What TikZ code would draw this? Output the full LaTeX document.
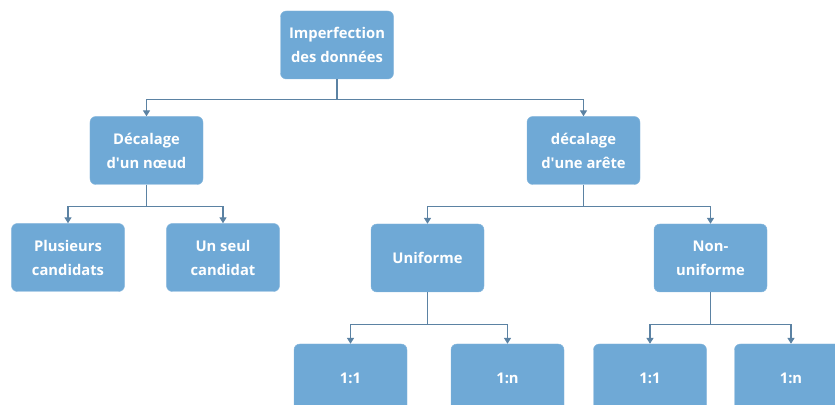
\documentclass[tikz,border=0pt]{standalone}
\usepackage{fontspec}
\setmainfont{Open Sans}
\usepackage{tikz}
\usetikzlibrary{arrows.meta}
\usetikzlibrary{positioning}

\definecolor{boxblue}{HTML}{6FA9D6}
\definecolor{linkblue}{HTML}{5B82A3}

\tikzset{
	box/.style={rectangle, rounded corners=5, fill=boxblue, draw=boxblue!85!white,
		text=white, font=\bfseries\fontsize{12.6}{20.5}\selectfont, align=center,
		minimum width=3.39cm, minimum height=2.04cm, inner sep=0pt},
	link/.style={draw=linkblue, line width=0.9pt, -{Triangle[length=5pt, width=6pt]}}
}

\begin{document}
\begin{tikzpicture}[x=0.03cm, y=-0.03cm]
		\useasboundingbox (0,0) rectangle (835,405);
		\clip (0,0) rectangle (835,405);
		
		\node[box] (root) at (337, 45) {Imperfection\\des données};
		
		\node[box] (noeud) at (146.5, 150.5) {Décalage\\d\textquotesingle un nœud};
		\node[box] (arete) at (583.5, 150.5) {décalage\\d\textquotesingle une arête};
		
		\node[box] (plus) at (68, 257.5) {Plusieurs\\candidats};
		\node[box] (seul) at (223, 257.5) {Un seul\\candidat};
		\node[box] (unif) at (427.5, 258) {Uniforme};
		\node[box] (nonunif) at (710.5, 258) {Non-\\uniforme};
		
		\node[box] (unifA) at (350.5, 378) {1:1};
		\node[box] (unifB) at (507.5, 378) {1:n};
		\node[box] (nonunifA) at (650, 378) {1:1};
		\node[box] (nonunifB) at (791, 378) {1:n};
		
		% branches
		\draw[link] (root.south) -- ++(0,20) -| (noeud.north);
		\draw[link] (root.south) -- ++(0,20) -| (arete.north);
		
		\draw[link] (noeud.south) -- ++(0,22) -| (plus.north);
		\draw[link] (noeud.south) -- ++(0,22) -| (seul.north);
		\draw[link] (arete.south) -- ++(0,22) -| (unif.north);
		\draw[link] (arete.south) -- ++(0,22) -| (nonunif.north);
		
		\draw[link] (unif.south) -- ++(0,32) -| (unifA.north);
		\draw[link] (unif.south) -- ++(0,32) -| (unifB.north);
		\draw[link] (nonunif.south) -- ++(0,32) -| (nonunifA.north);
		\draw[link] (nonunif.south) -- ++(0,32) -| (nonunifB.north);
\end{tikzpicture}
\end{document}
